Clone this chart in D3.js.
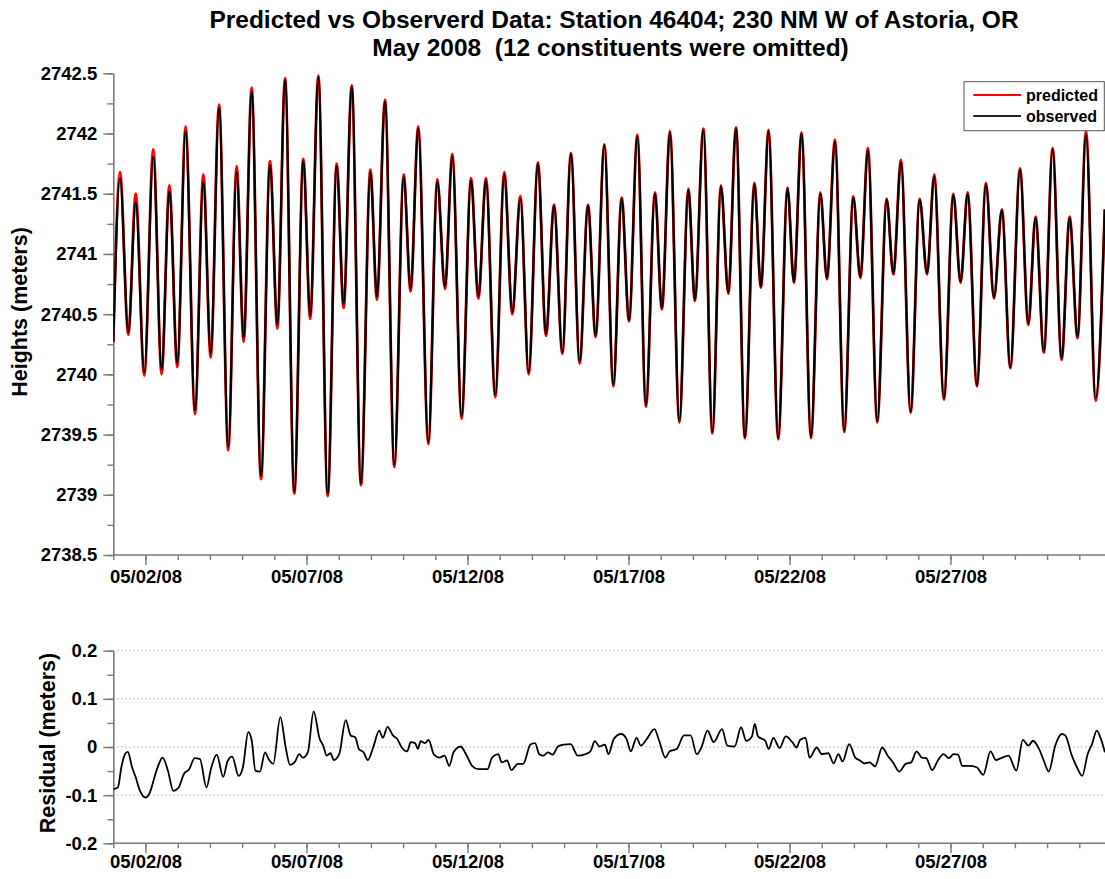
<!DOCTYPE html>
<html>
<head>
<meta charset="utf-8">
<script src="https://cdn.jsdelivr.net/npm/d3@7/dist/d3.min.js"></script>
<style>
  body { margin: 0; background: #fff; }
  svg { display: block; font-family: "Liberation Sans", Arial, sans-serif; font-weight: bold; }
</style>
</head>
<body>
<script>
// ---------------- DATA ----------------
// Hours after 05/01/08 00:00 of each tidal turning point (plus start / end)
const tideHours = [0, 5.0, 11.2, 16.7, 23.1, 29.8, 36.0, 41.8, 47.7, 53.9, 60.9, 67.1, 72.6, 78.8, 85.7, 91.9, 97.2, 103.1, 110.1, 116.8,
  122.3, 128.0, 134.9, 141.6, 146.8, 152.8, 159.8, 166.5, 171.7, 177.7, 184.6, 191.6, 196.5, 202.5, 209.5, 216.4, 221.6, 227.3, 234.8, 241.5,
  247.2, 252.7, 259.6, 266.6, 272.1, 277.8, 284.7, 291.4, 297.4, 303.4, 309.6, 316.5, 322.5, 328.5, 334.7, 341.1, 347.6, 353.8, 359.5, 366.0,
  372.7, 378.9, 384.4, 390.6, 397.0, 403.7, 408.9, 414.9, 421.9, 428.6, 433.5, 439.8, 446.5, 452.9, 458.4, 464.1, 470.8, 477.8, 482.7, 488.4,
  495.6, 502.5, 507.3, 513.0, 520.0, 527.0, 531.9, 537.9, 544.8, 551.5, 556.8, 562.5, 569.4, 576.4, 581.4, 587.1, 594.3, 601.0, 606.5, 611.9,
  619.1, 626.1, 631.5, 636.8, 643.7, 650.4, 656.4, 662.3, 668.6, 675.8, 682.0, 687.4, 693.6, 700.1, 706.8, 712.8, 718.7, 725.0, 732.2, 739.0];

const observedHeights = [2740.27, 2741.63, 2740.355, 2741.43, 2740.02, 2741.81, 2740.04, 2741.52, 2740.09, 2742.02, 2739.70, 2741.60, 2740.175, 2742.21, 2739.40, 2741.68, 2740.30, 2742.35, 2739.16, 2741.74,
  2740.41, 2742.445, 2739.03, 2741.77, 2740.49, 2742.467, 2739.01, 2741.73, 2740.58, 2742.39, 2739.095, 2741.68, 2740.645, 2742.265, 2739.25, 2741.64, 2740.715, 2742.04, 2739.44, 2741.60,
  2740.73, 2741.81, 2739.65, 2741.61, 2740.65, 2741.61, 2739.83, 2741.66, 2740.52, 2741.46, 2740.02, 2741.75, 2740.335, 2741.40, 2740.18, 2741.83, 2740.105, 2741.40, 2740.32, 2741.905,
  2739.91, 2741.46, 2740.45, 2741.98, 2739.745, 2741.50, 2740.55, 2742.01, 2739.61, 2741.53, 2740.62, 2742.03, 2739.52, 2741.56, 2740.68, 2742.04, 2739.48, 2741.58, 2740.73, 2742.02,
  2739.47, 2741.545, 2740.77, 2742.00, 2739.48, 2741.50, 2740.80, 2741.93, 2739.53, 2741.47, 2740.81, 2741.86, 2739.61, 2741.45, 2740.84, 2741.76, 2739.69, 2741.45, 2740.84, 2741.64,
  2739.80, 2741.49, 2740.77, 2741.50, 2739.91, 2741.58, 2740.64, 2741.365, 2740.06, 2741.70, 2740.42, 2741.30, 2740.19, 2741.865, 2740.13, 2741.30, 2740.31, 2741.99, 2739.80, 2741.37];

const predictedHeights = [2740.27, 2741.68, 2740.33, 2741.50, 2739.99, 2741.87, 2740.00, 2741.57, 2740.06, 2742.06, 2739.67, 2741.66, 2740.14, 2742.24, 2739.37, 2741.73, 2740.27, 2742.38, 2739.13, 2741.77,
  2740.38, 2742.46, 2739.01, 2741.79, 2740.46, 2742.48, 2738.99, 2741.75, 2740.55, 2742.40, 2739.08, 2741.70, 2740.62, 2742.28, 2739.23, 2741.66, 2740.69, 2742.06, 2739.42, 2741.62,
  2740.71, 2741.83, 2739.63, 2741.63, 2740.63, 2741.63, 2739.81, 2741.68, 2740.50, 2741.48, 2740.00, 2741.76, 2740.32, 2741.41, 2740.17, 2741.84, 2740.09, 2741.41, 2740.31, 2741.91,
  2739.90, 2741.47, 2740.44, 2741.99, 2739.73, 2741.51, 2740.54, 2742.02, 2739.60, 2741.54, 2740.61, 2742.04, 2739.51, 2741.57, 2740.67, 2742.05, 2739.47, 2741.59, 2740.72, 2742.03,
  2739.46, 2741.55, 2740.76, 2742.01, 2739.47, 2741.51, 2740.79, 2741.95, 2739.52, 2741.48, 2740.80, 2741.88, 2739.60, 2741.46, 2740.83, 2741.78, 2739.68, 2741.46, 2740.83, 2741.66,
  2739.79, 2741.50, 2740.76, 2741.51, 2739.90, 2741.59, 2740.63, 2741.37, 2740.05, 2741.71, 2740.41, 2741.31, 2740.18, 2741.88, 2740.12, 2741.31, 2740.30, 2742.02, 2739.78, 2741.37];

const residualHours = [0, 3.4, 6.0, 8.7, 10.8, 14.0, 16.7, 19.9, 24.2, 27.3, 31.4, 34.0, 36.7, 40.7, 44.7, 48.7, 52.6, 56.6, 60.6, 64.6,
  69.4, 73.1, 77.1, 81.9, 85.1, 88.6, 93.4, 96.6, 100.6, 103.2, 105.9, 109.3, 113.1, 115.7, 119.2, 124.5, 128.5, 131.7, 135.1, 138.6,
  141.3, 145.0, 149.3, 153.8, 156.4, 159.1, 161.8, 164.4, 168.4, 173.2, 176.9, 180.4, 183.0, 186.5, 189.7, 193.7, 198.2, 200.9, 204.4, 208.4,
  211.5, 215.0, 219.0, 221.7, 224.9, 227.0, 229.1, 232.3, 235.0, 238.9, 243.0, 246.9, 250.4, 253.6, 258.9, 262.9, 267.4, 272.3, 278.9, 282.3,
  286.9, 289.5, 293.5, 296.7, 301.5, 305.5, 310.9, 314.3, 317.5, 320.7, 323.9, 327.4, 331.4, 335.5, 340.8, 346.2, 351.6, 355.6, 358.9, 362.4,
  366.4, 369.1, 373.1, 378.5, 382.5, 385.7, 390.0, 393.2, 397.2, 403.4, 406.6, 411.5, 414.7, 420.0, 425.4, 430.3, 434.9, 438.3, 442.9, 447.5,
  453.7, 457.7, 463.1, 467.9, 471.7, 476.0, 478.1, 480.5, 485.9, 488.5, 492.0, 496.6, 501.2, 506.1, 509.3, 512.0, 516.0, 518.9, 524.3, 528.1,
  532.9, 536.9, 540.4, 543.6, 548.5, 553.0, 556.5, 559.7, 563.7, 567.8, 573.1, 577.2, 581.2, 585.8, 590.6, 594.7, 598.7, 602.7, 605.9, 610.3,
  614.8, 618.8, 622.8, 626.3, 629.6, 632.8, 637.6, 643.5, 648.4, 653.8, 657.8, 661.8, 667.2, 673.1, 677.9, 682.0, 685.5, 690.0, 693.5, 697.2,
  702.1, 706.9, 709.6, 714.1, 718.2, 722.2, 726.2, 729.5, 733.0, 735.7, 739.1];

const residualValues = [-0.0875, -0.084, -0.042, -0.015, -0.010, -0.042, -0.063, -0.091, -0.105, -0.094, -0.056, -0.035, -0.022, -0.049, -0.091, -0.084, -0.056, -0.046, -0.023, -0.025,
  -0.084, -0.042, -0.016, -0.062, -0.030, -0.020, -0.060, -0.042, 0.031, 0.013, -0.049, -0.051, -0.011, -0.025, -0.035, 0.062, -0.001, -0.037, -0.032, -0.015,
  -0.022, -0.011, 0.074, 0.017, 0.003, -0.018, -0.013, -0.027, -0.015, 0.056, 0.024, 0.020, -0.004, -0.011, -0.027, -0.001, 0.034, 0.019, 0.042, 0.024,
  0.017, -0.001, -0.009, 0.010, 0.008, -0.004, 0.012, 0.008, 0.015, -0.015, -0.022, -0.018, -0.039, -0.011, 0.001, -0.015, -0.039, -0.046, -0.046, -0.022,
  -0.015, -0.032, -0.028, -0.048, -0.035, -0.035, 0.005, 0.008, -0.015, -0.018, -0.011, -0.016, 0.001, 0.005, 0.006, -0.018, -0.015, -0.009, 0.012, 0.001,
  0.005, -0.015, 0.017, 0.027, 0.017, -0.009, 0.019, 0.003, 0.015, 0.037, 0.015, -0.022, -0.009, -0.004, 0.024, 0.024, -0.015, -0.001, 0.034, 0.010,
  0.037, 0.003, 0.001, 0.041, 0.013, 0.022, 0.048, 0.022, 0.013, -0.004, 0.019, -0.002, 0.022, 0.010, -0.001, 0.015, 0.019, -0.022, -0.001, -0.015,
  -0.013, -0.034, -0.015, -0.030, 0.006, -0.022, -0.028, -0.034, -0.032, -0.040, -0.001, -0.018, -0.032, -0.051, -0.035, -0.032, -0.009, -0.022, -0.023, -0.048,
  -0.027, -0.015, -0.023, -0.015, -0.016, -0.039, -0.039, -0.042, -0.058, -0.009, -0.027, -0.023, -0.018, -0.049, 0.015, 0.003, 0.013, -0.004, -0.028, -0.051,
  0.003, 0.027, 0.024, -0.015, -0.042, -0.060, -0.015, 0.006, 0.034, 0.020, -0.011];

const dateTickLabels = ["05/02/08", "05/07/08", "05/12/08", "05/17/08", "05/22/08", "05/27/08"];
const heightTickLabels = ["2738.5", "2739", "2739.5", "2740", "2740.5", "2741", "2741.5", "2742", "2742.5"];
const residualTickLabels = ["-0.2", "-0.1", "0", "0.1", "0.2"];
const seriesNames = ["predicted", "observed"];
const titleLines = ["Predicted vs Observerd Data: Station 46404; 230 NM W of Astoria, OR", "May 2008  (12 constituents were omitted)"];

// ---------------- CHART ----------------
const W = 1105, H = 879;
const svg = d3.select("body").append("svg").attr("width", W).attr("height", H);

const t0 = Date.UTC(2008, 4, 1);
const hourDate = h => new Date(t0 + h * 3600e3);
const x = d3.scaleUtc()
  .domain([new Date(t0), new Date(Date.UTC(2008, 5, 1))])
  .range([113.3, 113.3 + 31 * 32.2]);

const yTop = d3.scaleLinear().domain([2738.5, 2742.5]).range([555, 73.3]);
const yRes = d3.scaleLinear().domain([-0.2, 0.2]).range([843.3, 650.7]);

const axisColor = "#7a7a7a";
const parseTick = d3.utcParse("%m/%d/%y");
const majorDates = dateTickLabels.map(parseTick);
const allDays = d3.utcDay.range(new Date(t0), new Date(Date.UTC(2008, 5, 2)));

// clip
svg.append("defs").append("clipPath").attr("id", "clipTop")
  .append("rect").attr("x", 113.3).attr("y", 60).attr("width", W - 113.3).attr("height", 500);
svg.append("defs").append("clipPath").attr("id", "clipRes")
  .append("rect").attr("x", 113.3).attr("y", 640).attr("width", W - 113.3).attr("height", 210);

// Title
svg.append("text").attr("x", 614).attr("y", 28).attr("text-anchor", "middle")
  .style("font-size", "24.5px").text(titleLines[0]);
svg.append("text").attr("x", 610.5).attr("y", 56).attr("text-anchor", "middle")
  .style("font-size", "24.5px").attr("xml:space", "preserve").style("white-space", "pre").text(titleLines[1]);

function styleAxis(g) {
  g.selectAll("path.domain").attr("stroke", axisColor).attr("stroke-width", 1.6);
  g.selectAll(".tick line").attr("stroke", axisColor).attr("stroke-width", 1.4);
  g.selectAll(".tick text").attr("fill", "#000").style("font-family", "'Liberation Sans', Arial, sans-serif")
    .style("font-weight", "bold");
}

function drawXAxes(yPos, pad) {
  const minor = svg.append("g").attr("transform", `translate(0,${yPos})`)
    .call(d3.axisBottom(x).tickValues(allDays).tickSize(5).tickSizeOuter(0).tickFormat(""));
  styleAxis(minor);
  minor.select("path.domain").attr("d", `M${x.range()[0]},0H${W + 20}`);
  const major = svg.append("g").attr("transform", `translate(0,${yPos})`)
    .call(d3.axisBottom(x).tickValues(majorDates).tickSize(10).tickSizeOuter(0).tickPadding(pad)
      .tickFormat(d3.utcFormat("%m/%d/%y")));
  major.select("path.domain").remove();
  styleAxis(major);
  major.selectAll(".tick text").style("font-size", "18.5px");
}

// ---- Top panel ----
const heightVals = heightTickLabels.map(Number);
const heightMinor = d3.range(2738.5, 2742.51, 0.25);
const gyMinor = svg.append("g").attr("transform", "translate(113.3,0)")
  .call(d3.axisLeft(yTop).tickValues(heightMinor).tickSize(6).tickSizeOuter(0).tickFormat(""));
styleAxis(gyMinor);
const gy = svg.append("g").attr("transform", "translate(113.3,0)")
  .call(d3.axisLeft(yTop).tickValues(heightVals).tickSize(10).tickSizeOuter(0).tickPadding(6)
    .tickFormat((d, i) => heightTickLabels[i]));
gy.select("path.domain").remove();
styleAxis(gy);
gy.selectAll(".tick text").style("font-size", "18.5px");

drawXAxes(555, 5);

const tideLine = vals => d3.line()
  .x((d, i) => x(hourDate(tideHours[i])))
  .y((d, i) => yTop(vals[i]))
  .curve(d3.curveMonotoneX)(vals);

const topG = svg.append("g").attr("clip-path", "url(#clipTop)");
topG.append("path").attr("d", tideLine(predictedHeights)).attr("fill", "none")
  .attr("stroke", "#ff0000").attr("stroke-width", 2.8).attr("stroke-linejoin", "round");
topG.append("path").attr("d", tideLine(observedHeights)).attr("fill", "none")
  .attr("stroke", "#000").attr("stroke-width", 2.3).attr("stroke-linejoin", "round");

svg.append("text").attr("transform", "translate(27,312) rotate(-90)").attr("text-anchor", "middle")
  .style("font-size", "21.5px").text("Heights (meters)");

// Legend
const lg = svg.append("g");
lg.append("rect").attr("x", 964).attr("y", 81.7).attr("width", 140.3).attr("height", 49)
  .attr("fill", "#fff").attr("stroke", "#555").attr("stroke-width", 1);
const legendColors = ["#ff0000", "#222"];
seriesNames.forEach((n, i) => {
  const ly = 95 + i * 21;
  lg.append("line").attr("x1", 973.3).attr("x2", 1021).attr("y1", ly).attr("y2", ly)
    .attr("stroke", legendColors[i]).attr("stroke-width", 2);
  lg.append("text").attr("x", 1026).attr("y", ly + 5.7).style("font-size", "16px").text(n);
});

// ---- Residual panel ----
const resVals = residualTickLabels.map(Number);
const resMinor = d3.range(-0.2, 0.2001, 0.05);
svg.append("g").selectAll("line").data(resVals.filter(v => v > -0.2)).join("line")
  .attr("x1", 113.3).attr("x2", W).attr("y1", d => yRes(d)).attr("y2", d => yRes(d))
  .attr("stroke", "#999").attr("stroke-width", 1).attr("stroke-dasharray", "1.2,2.8");

const gryMinor = svg.append("g").attr("transform", "translate(113.3,0)")
  .call(d3.axisLeft(yRes).tickValues(resMinor).tickSize(6).tickSizeOuter(0).tickFormat(""));
styleAxis(gryMinor);
const gry = svg.append("g").attr("transform", "translate(113.3,0)")
  .call(d3.axisLeft(yRes).tickValues(resVals).tickSize(10).tickSizeOuter(0).tickPadding(6)
    .tickFormat((d, i) => residualTickLabels[i]));
gry.select("path.domain").remove();
styleAxis(gry);
gry.selectAll(".tick text").style("font-size", "18.5px");

drawXAxes(843.3, 2);

const resLine = d3.line()
  .x((d, i) => x(hourDate(residualHours[i])))
  .y((d, i) => yRes(residualValues[i]))
  .curve(d3.curveMonotoneX);
svg.append("g").attr("clip-path", "url(#clipRes)")
  .append("path").attr("d", resLine(residualValues)).attr("fill", "none")
  .attr("stroke", "#000").attr("stroke-width", 1.8).attr("stroke-linejoin", "round");

svg.append("text").attr("transform", "translate(55,743) rotate(-90)").attr("text-anchor", "middle")
  .style("font-size", "21.5px").text("Residual (meters)");
</script>
</body>
</html>
